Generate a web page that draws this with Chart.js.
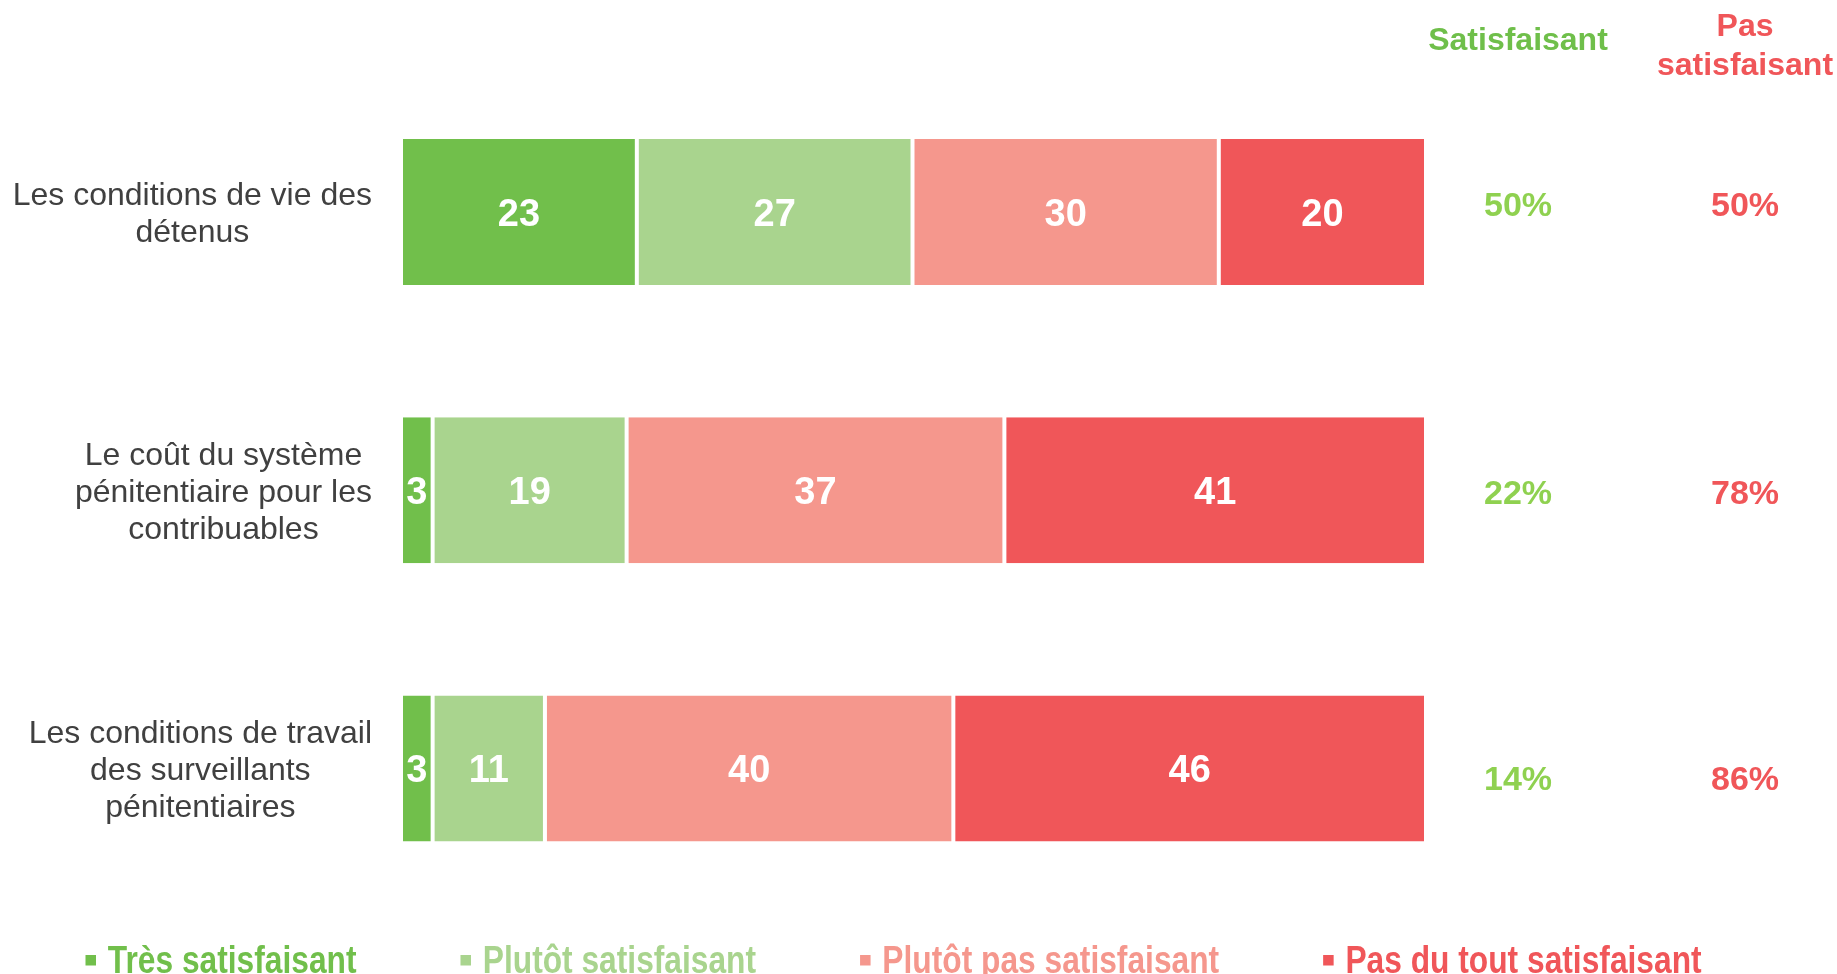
<!DOCTYPE html>
<html>
<head>
<meta charset="utf-8">
<script src="https://cdn.jsdelivr.net/npm/chart.js@4.4.1/dist/chart.umd.min.js"></script>
<style>
  html, body { margin: 0; padding: 0; background: #ffffff; }
  #wrap { width: 1837px; height: 974px; position: relative; }
</style>
</head>
<body>
<div id="wrap"><canvas id="c" width="1837" height="974"></canvas></div>
<script>
// ---- data ----
const categories = [
  ["Les conditions de vie des", "détenus"],
  ["Le coût du système", "pénitentiaire pour les", "contribuables"],
  ["Les conditions de travail", "des surveillants", "pénitentiaires"]
];
const seriesNames = ["Très satisfaisant", "Plutôt satisfaisant", "Plutôt pas satisfaisant", "Pas du tout satisfaisant"];
const tresSatisfaisant = [23, 3, 3];
const plutotSatisfaisant = [27, 19, 11];
const plutotPasSatisfaisant = [30, 37, 40];
const pasDuToutSatisfaisant = [20, 41, 46];
const satisfaisantPct = ["50%", "22%", "14%"];
const pasSatisfaisantPct = ["50%", "78%", "86%"];
const headerSatisfaisant = ["Satisfaisant"];
const headerPasSatisfaisant = ["Pas", "satisfaisant"];

// ---- styles ----
const colors = ["#71BF4B", "#A9D48E", "#F5978D", "#F05659"];
const pctGreen = "#8FD150";
const headGreen = "#6FBF4A";
const red = "#F05659";
const labelColor = "#404040";
const FONT = "'Liberation Sans', Arial, Helvetica, sans-serif";
const pctOffsetY = [-8, 1, 9];

const seriesData = [tresSatisfaisant, plutotSatisfaisant, plutotPasSatisfaisant, pasDuToutSatisfaisant];

const valueLabels = {
  id: 'valueLabels',
  afterDatasetsDraw(chart) {
    const ctx = chart.ctx;
    ctx.save();
    ctx.fillStyle = '#ffffff';
    ctx.font = 'bold 38px ' + FONT;
    ctx.textAlign = 'center';
    ctx.textBaseline = 'middle';
    chart.data.datasets.forEach((ds, di) => {
      const meta = chart.getDatasetMeta(di);
      const bl = ds.borderWidth.left || 0;
      const br = ds.borderWidth.right || 0;
      meta.data.forEach((el, i) => {
        const v = ds.data[i];
        const cx = (el.base + bl + el.x - br) / 2;
        ctx.fillText(String(v), cx, el.y + 3);
      });
    });
    ctx.restore();
  }
};

const sideTexts = {
  id: 'sideTexts',
  afterDraw(chart) {
    const ctx = chart.ctx;
    const yScale = chart.scales.y;
    const left = chart.chartArea.left;
    ctx.save();
    // category labels
    ctx.font = '32px ' + FONT;
    ctx.fillStyle = labelColor;
    ctx.textAlign = 'center';
    ctx.textBaseline = 'middle';
    const lh = 37;
    categories.forEach((lines, i) => {
      const cy = yScale.getPixelForValue(i) + 2.5;
      let maxW = 0;
      lines.forEach(l => { maxW = Math.max(maxW, ctx.measureText(l).width); });
      const cx = left - 31 - maxW / 2;
      const y0 = cy - (lines.length - 1) * lh / 2;
      lines.forEach((l, k) => ctx.fillText(l, cx, y0 + k * lh));
    });
    // headers
    const gx = 1518, rx = 1745;
    ctx.font = 'bold 32px ' + FONT;
    ctx.fillStyle = headGreen;
    ctx.fillText(headerSatisfaisant[0], gx, 41.5);
    ctx.fillStyle = red;
    headerPasSatisfaisant.forEach((l, k) => ctx.fillText(l, rx, 27.5 + k * 38.5));
    // percentages
    ctx.font = 'bold 34px ' + FONT;
    categories.forEach((_, i) => {
      const cy = yScale.getPixelForValue(i) + pctOffsetY[i] + 3;
      ctx.fillStyle = pctGreen;
      ctx.fillText(satisfaisantPct[i], gx, cy);
      ctx.fillStyle = red;
      ctx.fillText(pasSatisfaisantPct[i], rx, cy);
    });
    // legend (condensed bold look)
    ctx.font = 'bold 38px ' + FONT;
    ctx.textAlign = 'left';
    ctx.textBaseline = 'alphabetic';
    const sx = 0.835;
    let x = 85.5;
    seriesNames.forEach((name, i) => {
      ctx.fillStyle = colors[i];
      ctx.fillRect(x, 955, 10.5, 10.5);
      ctx.save();
      ctx.translate(x + 22.3, 973);
      ctx.scale(sx, 1);
      ctx.fillText(name, 0, 0);
      ctx.restore();
      x += 22.3 + ctx.measureText(name).width * sx + 104;
    });
    ctx.restore();
  }
};

new Chart(document.getElementById('c'), {
  type: 'bar',
  data: {
    labels: categories.map(c => c.join(' ')),
    datasets: seriesData.map((d, i) => ({
      label: seriesNames[i],
      data: d,
      backgroundColor: colors[i],
      borderColor: '#ffffff',
      borderWidth: { top: 0, bottom: 0, left: i > 0 ? 1 : 0, right: i < 3 ? 3 : 0 },
      borderSkipped: false,
      barPercentage: 0.525,
      categoryPercentage: 1
    }))
  },
  options: {
    indexAxis: 'y',
    responsive: false,
    animation: false,
    layout: { padding: { left: 403, right: 413, top: 73, bottom: 66.5 } },
    plugins: { legend: { display: false }, tooltip: { enabled: false } },
    scales: {
      x: { stacked: true, min: 0, max: 100, display: false },
      y: { stacked: true, display: false }
    }
  },
  plugins: [valueLabels, sideTexts]
});
</script>
</body>
</html>
